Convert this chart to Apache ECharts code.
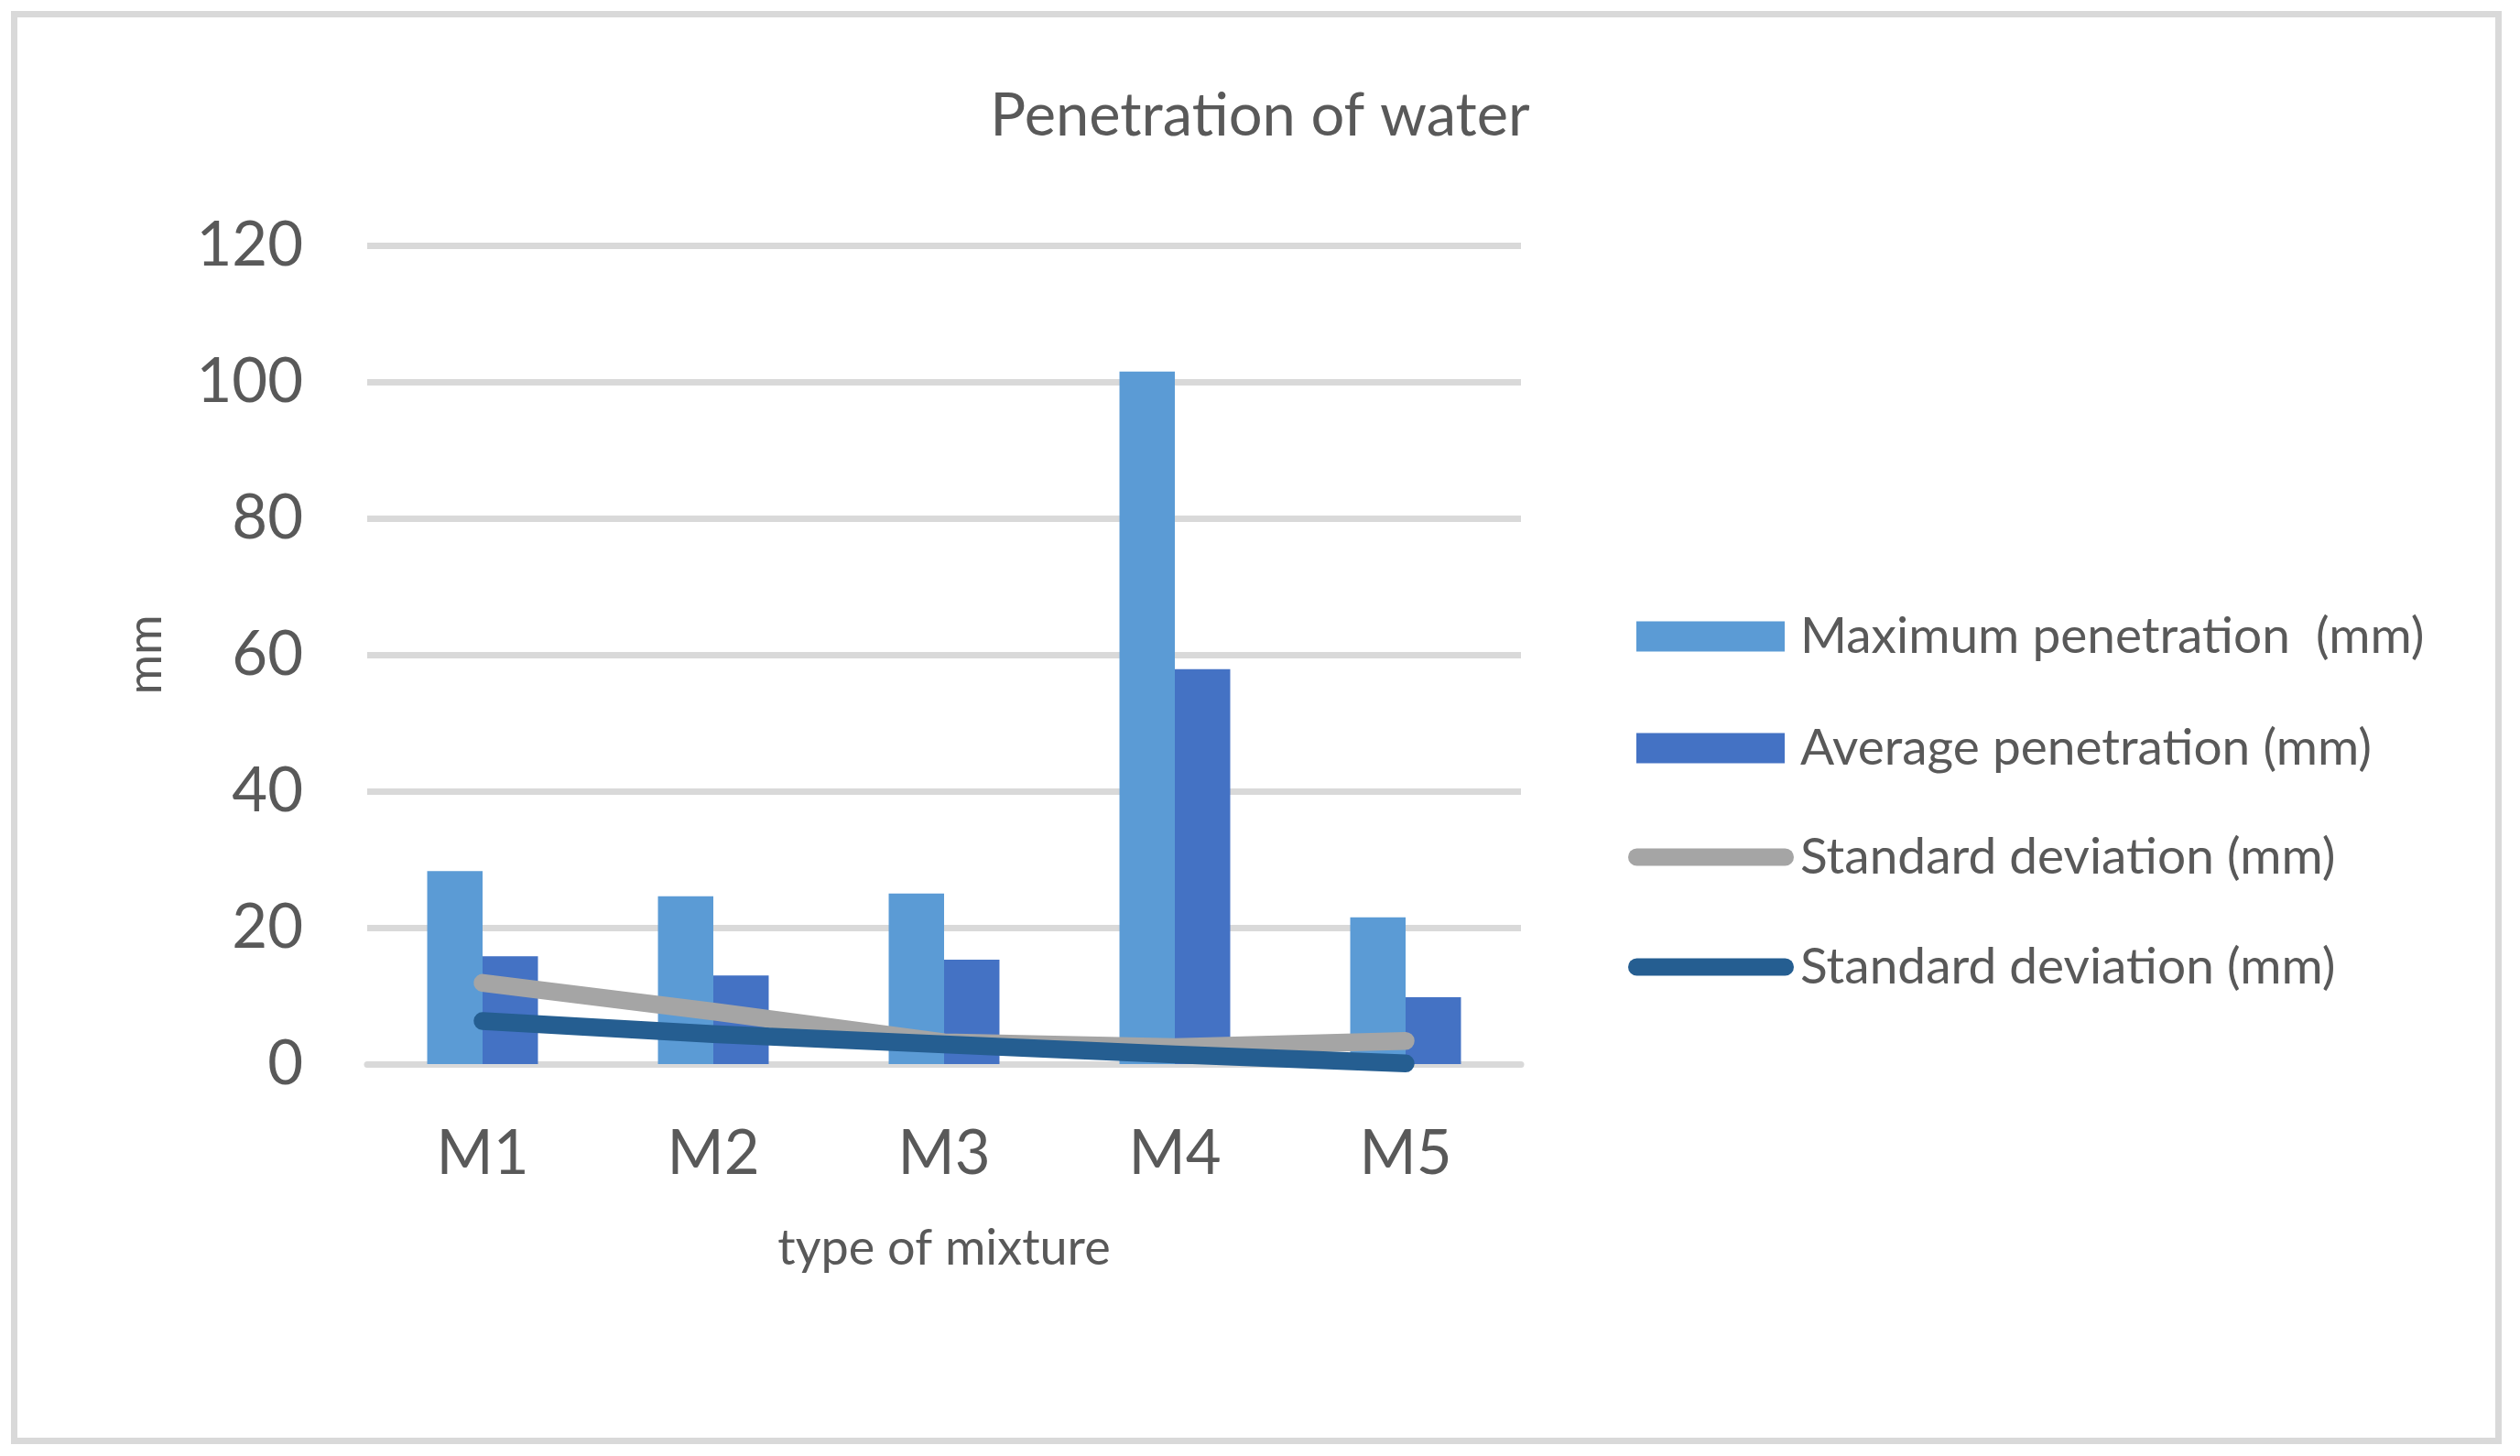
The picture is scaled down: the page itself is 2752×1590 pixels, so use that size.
<!DOCTYPE html>
<html>
<head>
<meta charset="utf-8">
<script src="https://cdn.jsdelivr.net/npm/echarts@6/dist/echarts.min.js"></script>
<style>
html,body{margin:0;padding:0;background:#fff;}
#chart{width:2752px;height:1590px;}
</style>
</head>
<body>
<div id="chart"></div>
<script>
var categories = ['M1', 'M2', 'M3', 'M4', 'M5'];
var maxPenetration = [28.3, 24.6, 25.0, 101.5, 21.5];
var avgPenetration = [15.8, 13.0, 15.3, 57.9, 9.8];
var stdDevGray = [11.9, 7.7, 3.2, 2.5, 3.4];
var stdDevDark = [6.3, 4.4, 2.9, 1.4, 0.1];
var yTicks = { min: 0, max: 120, interval: 20 };

var FONT = 'Lato';
var TXT = '#595959';
var GRID = '#D9D9D9';

var chart = echarts.init(document.getElementById('chart'), null, { renderer: 'canvas' });
var pill = 'path://M9.5,0H171.5A9.5,9.5,0,0,1,171.5,19H9.5A9.5,9.5,0,0,1,9.5,0Z';

chart.setOption({
  backgroundColor: '#ffffff',
  animation: false,
  textStyle: { fontFamily: FONT, color: TXT },
  title: {
    text: 'Penetration of water',
    left: 'center',
    top: 90,
    textStyle: { fontFamily: FONT, fontSize: 65, fontWeight: 'normal', color: TXT, lineHeight: 65 }
  },
  graphic: [{
    type: 'rect',
    shape: { x: 15.5, y: 15.5, width: 2713, height: 1558 },
    style: { fill: 'none', stroke: GRID, lineWidth: 7 },
    silent: true
  }],
  legend: [{
    orient: 'vertical',
    left: 1782,
    top: 660,
    itemWidth: 162,
    itemHeight: 33,
    itemGap: 62,
    icon: 'rect',
    data: ['Maximum penetration  (mm)', 'Average penetration (mm)'],
    textStyle: { fontFamily: FONT, fontSize: 55, color: TXT, lineHeight: 60, padding: [0, 0, 0, 12] },
    itemStyle: { borderWidth: 0 }
  }, {
    orient: 'vertical',
    left: 1773,
    top: 901,
    itemWidth: 181,
    itemHeight: 19,
    itemGap: 60,
    data: [{ name: 'sd1', icon: pill }, { name: 'sd2', icon: pill }],
    formatter: function () { return 'Standard deviation (mm)'; },
    textStyle: { fontFamily: FONT, fontSize: 55, color: TXT, lineHeight: 60, padding: [0, 0, 0, 2] },
    itemStyle: { borderWidth: 0 },
    lineStyle: { width: 0 }
  }],
  grid: { left: 401, right: 1091, top: 268, bottom: 428, containLabel: false },
  xAxis: {
    type: 'category',
    data: categories,
    name: 'type of mixture',
    nameLocation: 'middle',
    nameGap: 175,
    nameTextStyle: { fontFamily: FONT, fontSize: 54, color: TXT, lineHeight: 54 },
    axisTick: { show: false },
    axisLine: { show: true, lineStyle: { color: GRID, width: 7 } },
    axisLabel: { fontFamily: FONT, fontSize: 67, color: TXT, margin: 65, lineHeight: 67 }
  },
  yAxis: {
    type: 'value',
    min: yTicks.min,
    max: yTicks.max,
    interval: yTicks.interval,
    name: 'mm',
    nameLocation: 'middle',
    nameGap: 216,
    nameRotate: 90,
    nameTextStyle: { fontFamily: FONT, fontSize: 53, color: TXT, lineHeight: 53 },
    axisLine: { show: false },
    axisTick: { show: false },
    axisLabel: { fontFamily: FONT, fontSize: 67, color: TXT, margin: 70 },
    splitLine: { show: true, lineStyle: { color: GRID, width: 7 } }
  },
  series: [{
    name: 'Maximum penetration  (mm)',
    type: 'bar',
    data: maxPenetration,
    barGap: '0%',
    barCategoryGap: '52%',
    itemStyle: { color: '#5B9BD5' },
    z: 2
  }, {
    name: 'Average penetration (mm)',
    type: 'bar',
    data: avgPenetration,
    barGap: '0%',
    barCategoryGap: '52%',
    itemStyle: { color: '#4472C4' },
    z: 2
  }, {
    name: 'sd1',
    type: 'line',
    data: stdDevGray,
    showSymbol: false,
    symbol: 'none',
    color: '#A5A5A5',
    itemStyle: { color: '#A5A5A5', borderWidth: 0 },
    lineStyle: { color: '#A5A5A5', width: 19.5, cap: 'round', join: 'round' },
    z: 3
  }, {
    name: 'sd2',
    type: 'line',
    data: stdDevDark,
    showSymbol: false,
    symbol: 'none',
    color: '#255E91',
    itemStyle: { color: '#255E91', borderWidth: 0 },
    lineStyle: { color: '#255E91', width: 19.5, cap: 'round', join: 'round' },
    z: 4
  }]
});
</script>
</body>
</html>
